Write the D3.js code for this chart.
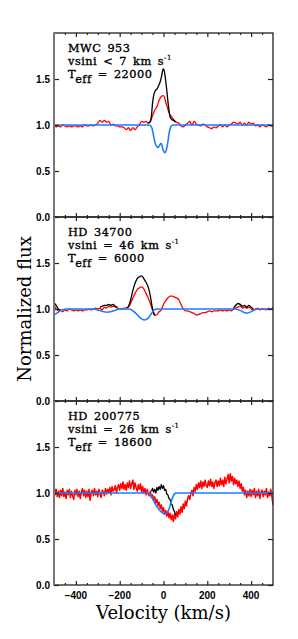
<!DOCTYPE html>
<html>
<head>
<meta charset="utf-8">
<script src="https://cdn.jsdelivr.net/npm/d3@7"></script>
<style>
  body { margin: 0; background: #fff; }
  svg { display: block; }
</style>
</head>
<body>
<svg id="svg-main"></svg>
<script>
// velocity grids of the spectra (start, step in km/s)
const GRID10 = { start: -500, step: 10 };
const GRID5 = { start: -500, step: 5 };

const VEL_DOMAIN = [-500, 500];
const FLUX_DOMAIN = [0, 2];
const X_MAJOR = [-400, -200, 0, 200, 400];
const Y_MAJOR = [0, 0.5, 1.0, 1.5];

// --- MWC 953 ---
const mwcName = "MWC 953";
const mwcVsini = "vsini < 7 km s";
const mwcTeff = "22000";
const mwcRed = [
  0.99, 0.98, 0.99, 0.98, 1.00, 0.99, 0.98, 0.99, 0.98, 0.99,
  0.99, 0.98, 0.99, 0.98, 1.00, 0.99, 0.99, 1.00, 0.99, 1.00,
  1.02, 1.05, 1.03, 1.05, 1.03, 1.04, 1.00, 1.01, 0.99, 0.99,
  0.98, 0.98, 0.97, 0.95, 0.97, 0.94, 0.97, 0.95, 0.98, 1.00,
  1.04, 1.03, 1.04, 1.02, 1.04, 1.10, 1.16, 1.20, 1.27, 1.31,
  1.32, 1.25, 1.17, 1.11, 1.08, 1.05, 1.03, 1.02, 0.99, 0.98,
  1.00, 1.02, 1.04, 1.00, 1.04, 1.01, 1.00, 0.99, 1.01, 1.00,
  0.98, 0.97, 0.96, 0.98, 0.97, 0.99, 1.00, 0.98, 1.00, 0.98,
  1.00, 1.01, 1.03, 1.02, 1.01, 1.03, 1.00, 1.02, 1.00, 1.03,
  1.01, 1.02, 0.99, 1.00, 0.98, 1.00, 0.99, 0.98, 1.00, 0.99,
  0.99
];
const mwcBlack = [[
  [-70, 1.02], [-60, 1.04], [-55, 1.10], [-50, 1.24], [-45, 1.32], [-38, 1.37],
  [-30, 1.39], [-22, 1.43], [-15, 1.47], [-8, 1.54], [-3, 1.60], [0, 1.61],
  [5, 1.57], [10, 1.48], [15, 1.38], [20, 1.26], [25, 1.16], [30, 1.09],
  [38, 1.06], [46, 1.05], [55, 1.03]
]];
const mwcBlue = [
  [-500, 1.0], [-70, 1.0], [-60, 0.995], [-52, 0.96], [-45, 0.88], [-38, 0.80],
  [-30, 0.765], [-24, 0.755], [-18, 0.78], [-12, 0.80], [-7, 0.78], [-2, 0.73],
  [4, 0.70], [10, 0.71], [16, 0.76], [22, 0.85], [28, 0.94], [34, 0.985],
  [42, 1.0], [500, 1.0]
];

// --- HD 34700 ---
const hdaName = "HD 34700";
const hdaVsini = "vsini = 46 km s";
const hdaTeff = "6000";
const hdaRed = [
  1.05, 1.00, 0.98, 0.99, 0.97, 0.99, 0.98, 1.00, 0.99, 0.98,
  0.99, 0.98, 0.99, 0.98, 0.99, 0.99, 1.00, 0.99, 1.00, 1.01,
  1.00, 1.01, 0.99, 1.02, 1.01, 1.03, 1.02, 1.03, 1.02, 1.01,
  1.00, 1.00, 1.01, 1.01, 1.02, 1.06, 1.12, 1.17, 1.21, 1.23,
  1.24, 1.22, 1.17, 1.12, 1.06, 0.99, 0.93, 0.94, 0.97, 0.99,
  1.05, 1.09, 1.12, 1.14, 1.14, 1.13, 1.12, 1.10, 1.05, 1.00,
  0.98, 0.98, 0.97, 0.96, 0.95, 0.935, 0.94, 0.95, 0.96, 0.96,
  0.97, 0.98, 0.97, 0.98, 0.98, 0.98, 0.99, 0.98, 0.99, 0.98,
  0.99, 0.98, 1.00, 1.01, 1.02, 1.03, 1.01, 1.02, 1.01, 1.02,
  1.00, 0.99, 1.00, 1.01, 0.99, 1.00, 1.00, 0.99, 1.01, 1.00,
  1.02
];
const hdaBlack = [
  [[-500, 1.07], [-490, 1.04], [-480, 1.00], [-470, 0.99]],
  [[-290, 1.02], [-280, 1.03], [-270, 1.04], [-260, 1.04], [-250, 1.05],
   [-240, 1.04], [-230, 1.05], [-220, 1.03], [-210, 1.02]],
  [[-170, 1.01], [-160, 1.03], [-150, 1.10], [-140, 1.20], [-130, 1.28],
   [-120, 1.33], [-110, 1.35], [-100, 1.36], [-90, 1.33], [-80, 1.29],
   [-70, 1.24], [-60, 1.14], [-50, 1.00], [-40, 0.93]],
  [[320, 1.01], [330, 1.04], [340, 1.06], [350, 1.05], [360, 1.03],
   [370, 1.04], [380, 1.02], [390, 1.04], [400, 1.02], [410, 1.00]]
];
const hdaBlue = [
  [-500, 0.935], [-490, 0.95], [-475, 0.975], [-460, 0.993], [-445, 1.0],
  [-320, 1.0], [-300, 0.99], [-280, 0.975], [-258, 0.965], [-235, 0.975],
  [-215, 0.99], [-200, 1.0], [-160, 1.0], [-145, 0.99], [-125, 0.95],
  [-105, 0.90], [-88, 0.88], [-70, 0.90], [-55, 0.95], [-42, 0.99],
  [-30, 1.0], [330, 1.0], [345, 0.99], [362, 0.97], [380, 0.955],
  [400, 0.97], [415, 0.99], [430, 1.0], [500, 1.0]
];

// --- HD 200775 ---
const hdbName = "HD 200775";
const hdbVsini = "vsini = 26 km s";
const hdbTeff = "18600";
const hdbRed = [
  1.09, 0.98, 1.04, 0.96, 1.02, 0.95, 1.03, 0.97, 1.05, 0.96,
  1.01, 0.94, 1.03, 0.98, 1.04, 0.95, 1.02, 0.97, 0.93, 1.03,
  0.98, 1.04, 0.96, 1.02, 0.94, 1.01, 1.05, 0.97, 1.03, 0.95,
  1.02, 0.96, 1.04, 0.92, 1.01, 1.03, 0.97, 1.05, 0.98, 1.02,
  0.96, 1.04, 0.99, 0.95, 1.03, 1.01, 0.97, 1.05, 0.99, 1.04,
  1.00, 1.06, 0.98, 1.07, 1.02, 1.04, 1.08, 1.00, 1.06, 1.09,
  1.03, 1.10, 1.05, 1.12, 1.04, 1.09, 1.03, 1.11, 1.06, 1.13,
  1.05, 1.10, 1.14, 1.04, 1.11, 1.06, 1.02, 1.09, 1.04, 1.10,
  1.01, 1.07, 1.00, 1.05, 0.98, 1.04, 0.99, 0.97, 1.02, 0.95,
  0.98, 0.92, 0.96, 0.89, 0.93, 0.86, 0.90, 0.83, 0.87, 0.80,
  0.84, 0.77, 0.81, 0.75, 0.80, 0.73, 0.78, 0.71, 0.76, 0.69,
  0.77, 0.72, 0.80, 0.74, 0.82, 0.77, 0.85, 0.79, 0.88, 0.83,
  0.91, 0.86, 0.94, 0.97, 0.93, 1.00, 1.03, 0.97, 1.06, 1.02,
  1.09, 1.04, 1.11, 1.06, 1.13, 1.05, 1.12, 1.07, 1.14, 1.08,
  1.06, 1.13, 1.08, 1.15, 1.07, 1.12, 1.05, 1.11, 1.14, 1.07,
  1.13, 1.08, 1.16, 1.09, 1.14, 1.07, 1.17, 1.10, 1.15, 1.20,
  1.11, 1.21, 1.13, 1.18, 1.09, 1.16, 1.10, 1.14, 1.07, 1.13,
  1.05, 1.10, 1.02, 1.06, 0.98, 1.03, 0.95, 1.02, 0.97, 1.04,
  0.96, 1.03, 0.98, 1.05, 0.95, 1.02, 0.97, 1.04, 0.94, 1.01,
  1.03, 0.96, 1.02, 0.98, 1.05, 0.95, 1.01, 0.97, 1.04, 0.96,
  0.87
];
const hdbBlack = [[
  [-55, 1.02], [-50, 1.05], [-45, 1.01], [-40, 1.04], [-35, 1.00], [-30, 1.06],
  [-25, 1.03], [-20, 1.07], [-15, 1.04], [-10, 1.09], [-5, 1.05], [0, 1.08],
  [5, 1.03], [10, 1.04], [15, 0.99], [20, 0.98], [25, 0.94], [30, 0.93],
  [35, 0.88], [40, 0.87], [45, 0.82], [50, 0.80], [55, 0.76]
]];
const hdbBlue = [
  [-500, 1.0], [-75, 1.0], [-65, 0.99], [-55, 0.96], [-46, 0.92], [-35, 0.87],
  [-23, 0.83], [-12, 0.80], [-3, 0.78], [6, 0.775], [15, 0.785], [23, 0.815],
  [30, 0.86], [36, 0.91], [43, 0.96], [50, 0.99], [58, 1.0], [500, 1.0]
];

var Dims = {
    Svg: { Width: 298, Height: 639 },
    Plot: { Left: 54, Right: 273, Top: 33, PanelHeight: 184 }
};

const COLORS = { red: "#ff0000", black: "#000000", blue: "#1f7bff", frame: "#222", axis: "#777" };
const TEXT_FONT = "'DejaVu Serif', serif";
const TICK_FONT = "'Liberation Sans', Arial, sans-serif";

function gridPairs(grid, values) {
    return values.map((f, i) => [grid.start + i * grid.step, f]);
}

const panels = [
    { name: mwcName, vsini: mwcVsini, teff: mwcTeff, red: gridPairs(GRID10, mwcRed), black: mwcBlack, blue: mwcBlue, smooth: true },
    { name: hdaName, vsini: hdaVsini, teff: hdaTeff, red: gridPairs(GRID10, hdaRed), black: hdaBlack, blue: hdaBlue, smooth: true },
    { name: hdbName, vsini: hdbVsini, teff: hdbTeff, red: gridPairs(GRID5, hdbRed), black: hdbBlack, blue: hdbBlue, smooth: false }
];

var svg = d3.select("#svg-main")
    .attr("width", Dims.Svg.Width)
    .attr("height", Dims.Svg.Height);

var x = d3.scaleLinear().domain(VEL_DOMAIN).range([Dims.Plot.Left, Dims.Plot.Right]);

panels.forEach(function (p, i) {
    var top = Dims.Plot.Top + i * Dims.Plot.PanelHeight;
    var bottom = top + Dims.Plot.PanelHeight;
    var y = d3.scaleLinear().domain(FLUX_DOMAIN).range([bottom, top]);
    drawPanel(p, y, top, bottom, i === panels.length - 1);
});

function drawPanel(p, y, top, bottom, isLast) {
    var g = svg.append("g").attr("class", "panel");

    var clipId = "clip-" + top;
    g.append("clipPath").attr("id", clipId)
        .append("rect")
        .attr("x", Dims.Plot.Left).attr("y", top)
        .attr("width", Dims.Plot.Right - Dims.Plot.Left)
        .attr("height", bottom - top);

    var lineSharp = d3.line().x(d => x(d[0])).y(d => y(d[1]));
    var lineSmooth = d3.line().x(d => x(d[0])).y(d => y(d[1])).curve(d3.curveMonotoneX);

    var lines = g.append("g").attr("clip-path", `url(#${clipId})`);

    lines.append("path")
        .attr("d", (p.smooth ? lineSmooth : lineSharp)(p.red))
        .attr("fill", "none").attr("stroke", COLORS.red)
        .attr("stroke-width", p.smooth ? 1.3 : 1.5)
        .attr("stroke-linejoin", "round");

    p.black.forEach(function (seg) {
        lines.append("path")
            .attr("d", (p.smooth ? lineSmooth : lineSharp)(seg))
            .attr("fill", "none").attr("stroke", COLORS.black).attr("stroke-width", 1.3)
            .attr("stroke-linejoin", "round");
    });

    lines.append("path")
        .attr("d", lineSmooth(p.blue))
        .attr("fill", "none").attr("stroke", COLORS.blue).attr("stroke-width", 1.6);

    // ticks on all four sides, pointing inward
    var xMinor = d3.range(-450, 500, 50).filter(v => X_MAJOR.indexOf(v) < 0);
    var axes = [
        { ax: d3.axisBottom(x).tickValues(X_MAJOR).tickSize(-4), at: `translate(0,${bottom})` },
        { ax: d3.axisBottom(x).tickValues(xMinor).tickSize(-2), at: `translate(0,${bottom})` },
        { ax: d3.axisTop(x).tickValues(X_MAJOR).tickSize(-4), at: `translate(0,${top})` },
        { ax: d3.axisTop(x).tickValues(xMinor).tickSize(-2), at: `translate(0,${top})` },
        { ax: d3.axisLeft(y).tickValues(Y_MAJOR).tickSize(-5), at: `translate(${Dims.Plot.Left},0)` },
        { ax: d3.axisRight(y).tickValues(Y_MAJOR).tickSize(-5), at: `translate(${Dims.Plot.Right},0)` }
    ];
    axes.forEach(function (a) {
        var ag = g.append("g").attr("transform", a.at).call(a.ax.tickFormat(""));
        ag.select(".domain").remove();
        ag.selectAll("line").attr("stroke", COLORS.frame).attr("stroke-width", 1.2);
    });

    // frame
    g.append("rect")
        .attr("x", Dims.Plot.Left).attr("y", top)
        .attr("width", Dims.Plot.Right - Dims.Plot.Left)
        .attr("height", bottom - top)
        .attr("fill", "none").attr("stroke", COLORS.frame).attr("stroke-width", 1.3);
    g.append("line")
        .attr("x1", Dims.Plot.Left).attr("x2", Dims.Plot.Left)
        .attr("y1", top).attr("y2", bottom)
        .attr("stroke", COLORS.axis).attr("stroke-width", 2);

    // y tick labels
    g.selectAll(".ylab").data(Y_MAJOR).enter()
        .append("text")
        .attr("x", Dims.Plot.Left - 4)
        .attr("y", d => y(d) + 3.5)
        .attr("text-anchor", "end")
        .attr("font-family", TICK_FONT).attr("font-weight", "bold").attr("font-size", 10)
        .text(d => d3.format(".1f")(d));

    if (isLast) {
        g.selectAll(".xlab").data(X_MAJOR).enter()
            .append("text")
            .attr("x", d => x(d))
            .attr("y", bottom + 14)
            .attr("text-anchor", "middle")
            .attr("font-family", TICK_FONT).attr("font-weight", "bold").attr("font-size", 10)
            .text(d => d < 0 ? "\u2212" + Math.abs(d) : d);
    }

    // annotation
    var tx = Dims.Plot.Left + 14;
    var ann = g.append("g")
        .attr("font-family", TEXT_FONT).attr("font-size", 11.3).attr("fill", "#000")
        .attr("letter-spacing", 0.5).attr("word-spacing", 2)
        .attr("stroke", "#000").attr("stroke-width", 0.35);
    ann.append("text").attr("x", tx).attr("y", top + 19).text(p.name);
    var vs = ann.append("text").attr("x", tx).attr("y", top + 32).attr("xml:space", "preserve");
    vs.append("tspan").text(p.vsini);
    vs.append("tspan").attr("dy", -5).attr("font-size", 7).attr("stroke-width", 0.2).text("-1");
    var te = ann.append("text").attr("x", tx).attr("y", top + 45);
    te.append("tspan").text("T");
    te.append("tspan").attr("dy", 5).text("eff");
    te.append("tspan").attr("dy", -5).attr("xml:space", "preserve").text(" = " + p.teff);
}

// axis titles
svg.append("text")
    .attr("x", (Dims.Plot.Left + Dims.Plot.Right) / 2)
    .attr("y", 619)
    .attr("text-anchor", "middle")
    .attr("font-family", TEXT_FONT).attr("font-size", 18)
    .text("Velocity (km/s)");

svg.append("text")
    .attr("transform", `translate(31,${Dims.Plot.Top + 1.5 * Dims.Plot.PanelHeight}) rotate(-90)`)
    .attr("text-anchor", "middle")
    .attr("font-family", TEXT_FONT).attr("font-size", 18)
    .text("Normalized flux");
</script>
</body>
</html>
